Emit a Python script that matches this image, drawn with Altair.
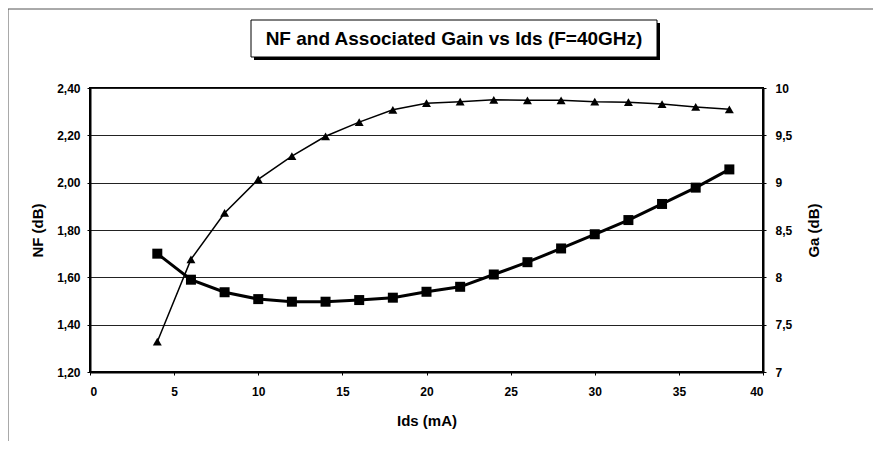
import altair as alt
import pandas as pd

ids = [4, 6, 8, 10, 12, 14, 16, 18, 20, 22, 24, 26, 28, 30, 32, 34, 36, 38]
nf = [1.70, 1.59, 1.537, 1.508, 1.497, 1.497, 1.504, 1.514, 1.539, 1.560,
      1.612, 1.664, 1.722, 1.782, 1.842, 1.910, 1.979, 2.056]
ga = [7.32, 8.19, 8.68, 9.035, 9.28, 9.49, 9.64, 9.77, 9.84, 9.855,
      9.875, 9.87, 9.87, 9.855, 9.85, 9.83, 9.80, 9.775]
nf_ticks = [1.2, 1.4, 1.6, 1.8, 2.0, 2.2, 2.4]
ga_ticks = [7, 7.5, 8, 8.5, 9, 9.5, 10]
x_ticks = [0, 5, 10, 15, 20, 25, 30, 35, 40]
title_text = "NF and Associated Gain vs Ids (F=40GHz)"

df = pd.DataFrame({"Ids": ids, "NF": nf, "Ga": ga})
one = pd.DataFrame({"a": [0]})

FONT = "Liberation Sans, Arial, sans-serif"

x_enc = alt.X("Ids:Q", scale=alt.Scale(domain=[0, 40], nice=False),
              axis=alt.Axis(values=x_ticks, title="Ids (mA)", grid=False,
                            tickSize=3, labelPadding=16, labelBaseline="middle",
                            titleY=48, titleBaseline="middle"))

nf_layer = alt.Chart(df).mark_line(
    color="black", strokeWidth=3,
    point=alt.OverlayMarkDef(shape="square", size=100, filled=True, color="black", opacity=1)
).encode(
    x=x_enc,
    y=alt.Y("NF:Q", scale=alt.Scale(domain=[1.2, 2.4], nice=False, zero=False),
            axis=alt.Axis(orient="left", values=nf_ticks, title="NF (dB)", grid=True,
                          gridColor="#222", gridWidth=1, tickSize=3, labelPadding=7,
                          labelExpr="replace(format(datum.value, '.2f'), '.', ',')",
                          titleX=-53, titleY=142, titleBaseline="middle", titleAngle=270)),
)

ga_layer = alt.Chart(df).mark_line(
    color="black", strokeWidth=1.5,
    point=alt.OverlayMarkDef(shape="triangle-up", size=80, filled=True, color="black", opacity=1)
).encode(
    x=x_enc,
    y=alt.Y("Ga:Q", scale=alt.Scale(domain=[7, 10], nice=False, zero=False),
            axis=alt.Axis(orient="right", values=ga_ticks, title="Ga (dB)", grid=False,
                          tickSize=3, labelPadding=9,
                          labelExpr="replace(format(datum.value, '.1~f'), '.', ',')",
                          titleX=50, titleY=142, titleBaseline="middle", titleAngle=270)),
)

frame_left = alt.Chart(one).mark_rule(color="#555", strokeWidth=1).encode(
    x=alt.value(-82), y=alt.value(-79), y2=alt.value(353))
frame_top = alt.Chart(one).mark_rule(color="#555", strokeWidth=1).encode(
    x=alt.value(-82), x2=alt.value(783), y=alt.value(-79))
shadow = alt.Chart(one).mark_rect(color="black").encode(
    x=alt.value(164), x2=alt.value(570), y=alt.value(-65), y2=alt.value(-28))
box = alt.Chart(one).mark_rect(fill="white", stroke="black", strokeWidth=1).encode(
    x=alt.value(161), x2=alt.value(567), y=alt.value(-68), y2=alt.value(-31))
title = alt.Chart(one).mark_text(font=FONT, fontSize=19, fontWeight=700,
                                 color="black", align="center", baseline="middle").encode(
    x=alt.value(364), y=alt.value(-49), text=alt.value(title_text))

chart = alt.layer(
    frame_left, frame_top, shadow, box, title,
    nf_layer, ga_layer
).resolve_scale(y="independent").properties(
    width=673, height=284,
    background="white",
    autosize=alt.AutoSizeParams(type="none"),
    padding={"left": 82, "top": 80, "right": 110, "bottom": 69},
).configure_view(
    stroke="black", strokeWidth=2
).configure_axis(
    labelFont=FONT, labelFontSize=12, labelFontWeight=700, labelColor="black",
    titleFont=FONT, titleFontSize=15, titleFontWeight=700, titleColor="black",
    domainColor="black", domainWidth=2, tickColor="black", tickWidth=1,
)

chart.save("out.html", embed_options={"renderer": "svg", "actions": False})
